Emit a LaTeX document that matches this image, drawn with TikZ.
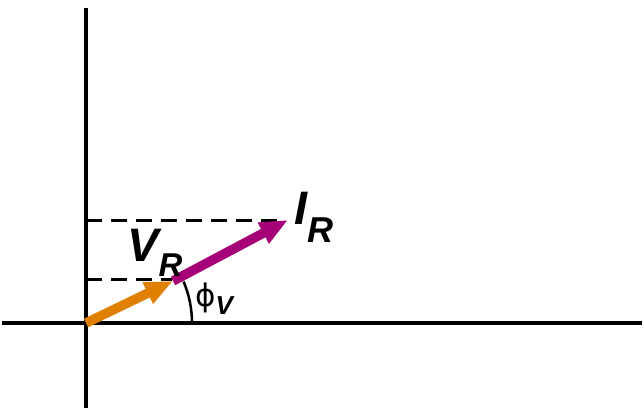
\documentclass[tikz,border=0pt]{standalone}
\usepackage{fontspec}
\setmainfont{Liberation Sans}
\newfontfamily\symfont{DejaVu Sans}
\usetikzlibrary{arrows.meta}
\definecolor{vorange}{RGB}{224,128,0}
\definecolor{imag}{RGB}{165,0,120}
\begin{document}
\begin{tikzpicture}[x=1pt,y=1pt,
  axis/.style={draw=black},
  guide/.style={draw=black,line width=3pt,dash pattern=on 16pt off 9pt},
  phasor/.style={line width=9.5pt,-{Triangle[length=28pt,width=22pt]}},
  lbl/.style={inner sep=0pt,anchor=base west}]
\useasboundingbox (0,0) rectangle (644,412);
\coordinate (O) at (86,89);
\coordinate (ytop) at (86,404);
\coordinate (ybot) at (86,4);
\coordinate (xl) at (2,89);
\coordinate (xr) at (642,89);
\coordinate (V) at (173,131);
\coordinate (I) at (288,192);
\coordinate (Vy) at (86,132);
\coordinate (Iy) at (86,191);
\coordinate (Vd) at (172,132);
\coordinate (Id) at (285,191);
\draw[axis,line width=4.5pt] (ybot) -- (ytop);
\draw[axis,line width=3.5pt] (xl) -- (xr);
\draw[guide] (Iy) -- (Id);
\draw[guide] (Vy) -- (Vd);
\draw[phasor,imag] (V) -- (I);
\draw[phasor,vorange] (O) -- (V);
\draw[line width=2.5pt] (192,89) arc[start angle=0,end angle=23,radius=106];
\node[lbl] (IR) at (294,187) {\bfseries\itshape\fontsize{47}{47}\selectfont I\raisebox{-18pt}{\fontsize{36}{36}\selectfont R}};
\node[lbl] (VR) at (127,150) {\bfseries\itshape\fontsize{47}{47}\selectfont V\raisebox{-15pt}{\fontsize{33}{33}\selectfont R}};
\node[lbl] (phi) at (195,105) {{\symfont\fontsize{31}{31}\selectfont ϕ}\raisebox{-8pt}{\bfseries\itshape\fontsize{26}{26}\selectfont V}};
\end{tikzpicture}
\end{document}
